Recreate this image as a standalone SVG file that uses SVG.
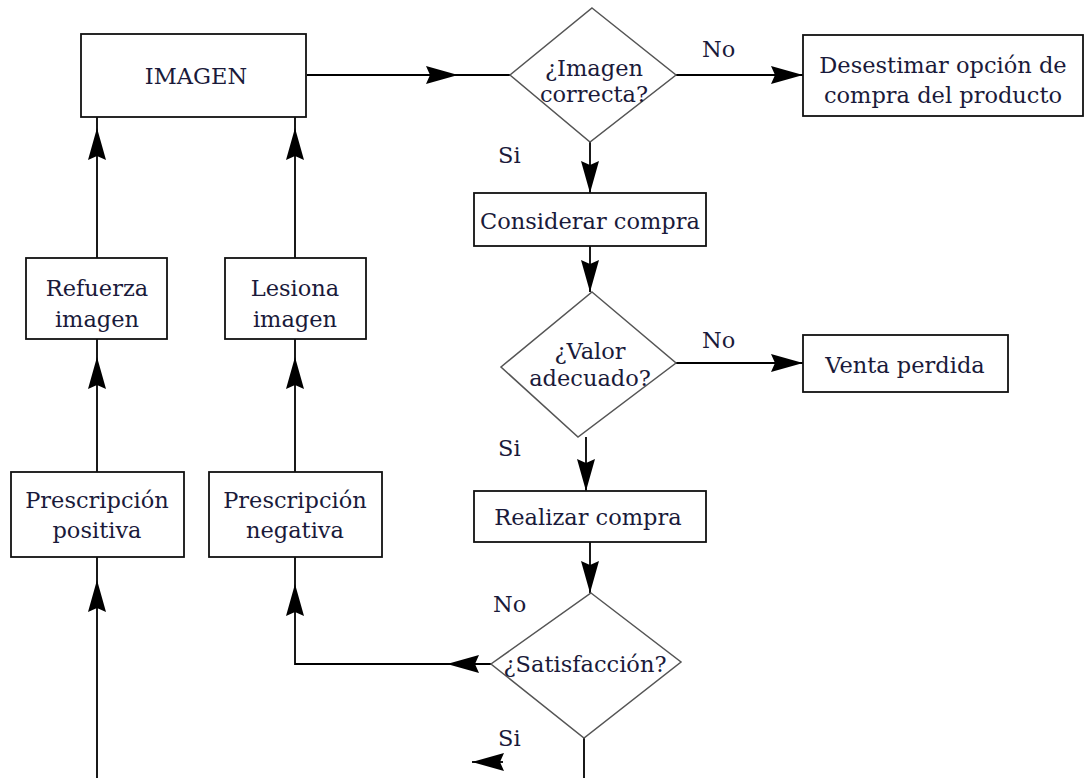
<svg xmlns="http://www.w3.org/2000/svg" width="1089" height="778" viewBox="0 0 1089 778">
<defs>
<marker id="ah" viewBox="0 0 32 18" refX="32" refY="9" markerWidth="32" markerHeight="18" markerUnits="userSpaceOnUse" orient="auto">
<path d="M0,0 L32,9 L0,18 L4,9 z" fill="#000"/>
</marker>
<style>
.box{fill:#fff;stroke:#111;stroke-width:1.8}
.dia{fill:#fff;stroke:#555;stroke-width:1.5}
.ln{fill:none;stroke:#000;stroke-width:1.8}
.t{font-family:"DejaVu Serif","Liberation Serif",serif;font-size:22.5px;fill:#1a1a3a;text-anchor:middle}
.lbl{font-family:"DejaVu Serif","Liberation Serif",serif;font-size:22.5px;fill:#1a1a3a}
</style>
</defs>
<rect width="1089" height="778" fill="#fff"/>
<g id="connectors">
<path class="ln" d="M307,75 L458,75" marker-end="url(#ah)"/>
<path class="ln" d="M458,75 L510,75"/>
<path class="ln" d="M676,75 L803,75" marker-end="url(#ah)"/>
<path class="ln" d="M590,142 L590,193" marker-end="url(#ah)"/>
<path class="ln" d="M590,246 L590,292" marker-end="url(#ah)"/>
<path class="ln" d="M676,363 L803,363" marker-end="url(#ah)"/>
<path class="ln" d="M586,437 L586,491" marker-end="url(#ah)"/>
<path class="ln" d="M590,542 L590,593" marker-end="url(#ah)"/>
<path class="ln" d="M491,664 L447,664" marker-end="url(#ah)"/>
<path class="ln" d="M447,664 L295,664 L295,584" marker-end="url(#ah)"/>
<path class="ln" d="M295,584 L295,557"/>
<path class="ln" d="M503,762 L472,762" marker-end="url(#ah)"/>
<path class="ln" d="M584,738 L584,778"/>
<path class="ln" d="M97,778 L97,580" marker-end="url(#ah)"/>
<path class="ln" d="M97,580 L97,557"/>
<path class="ln" d="M97,472 L97,357" marker-end="url(#ah)"/>
<path class="ln" d="M97,357 L97,339"/>
<path class="ln" d="M295,472 L295,357" marker-end="url(#ah)"/>
<path class="ln" d="M295,357 L295,339"/>
<path class="ln" d="M97,258 L97,128" marker-end="url(#ah)"/>
<path class="ln" d="M97,128 L97,117"/>
<path class="ln" d="M295,258 L295,128" marker-end="url(#ah)"/>
<path class="ln" d="M295,128 L295,117"/>
</g>
<g id="labels">
<text class="lbl" x="702" y="57">No</text>
<text class="lbl" x="498" y="163">Si</text>
<text class="lbl" x="702" y="348">No</text>
<text class="lbl" x="498" y="456">Si</text>
<text class="lbl" x="493" y="612">No</text>
<text class="lbl" x="498" y="746">Si</text>
</g>
<g id="imagen">
<rect class="box" x="81" y="34" width="225" height="83"/>
<text class="t" x="196" y="84">IMAGEN</text>
</g>
<g id="imagen-correcta">
<polygon class="dia" points="592,8 676,75 590,142 510,75"/>
<text class="t" x="594" y="76">¿Imagen</text>
<text class="t" x="594" y="102">correcta?</text>
</g>
<g id="desestimar">
<rect class="box" x="803" y="35" width="280" height="81"/>
<text class="t" x="943" y="73">Desestimar opción de</text>
<text class="t" x="943" y="103">compra del producto</text>
</g>
<g id="considerar">
<rect class="box" x="474" y="193" width="232" height="53"/>
<text class="t" x="590" y="229">Considerar compra</text>
</g>
<g id="valor-adecuado">
<polygon class="dia" points="592,292 676,363 578,437 501,367"/>
<text class="t" x="590" y="359">¿Valor</text>
<text class="t" x="590" y="386">adecuado?</text>
</g>
<g id="venta-perdida">
<rect class="box" x="803" y="335" width="205" height="57"/>
<text class="t" x="905" y="373">Venta perdida</text>
</g>
<g id="realizar">
<rect class="box" x="474" y="491" width="232" height="51"/>
<text class="t" x="588" y="525">Realizar compra</text>
</g>
<g id="satisfaccion">
<polygon class="dia" points="591,593 681,662 584,738 491,664"/>
<text class="t" x="585" y="672">¿Satisfacción?</text>
</g>
<g id="prescripcion-positiva">
<rect class="box" x="11" y="472" width="173" height="85"/>
<text class="t" x="97" y="508">Prescripción</text>
<text class="t" x="97" y="538">positiva</text>
</g>
<g id="prescripcion-negativa">
<rect class="box" x="209" y="472" width="173" height="85"/>
<text class="t" x="295" y="508">Prescripción</text>
<text class="t" x="295" y="538">negativa</text>
</g>
<g id="refuerza">
<rect class="box" x="26" y="258" width="141" height="81"/>
<text class="t" x="97" y="296">Refuerza</text>
<text class="t" x="97" y="327">imagen</text>
</g>
<g id="lesiona">
<rect class="box" x="225" y="258" width="141" height="81"/>
<text class="t" x="295" y="296">Lesiona</text>
<text class="t" x="295" y="327">imagen</text>
</g>
</svg>
